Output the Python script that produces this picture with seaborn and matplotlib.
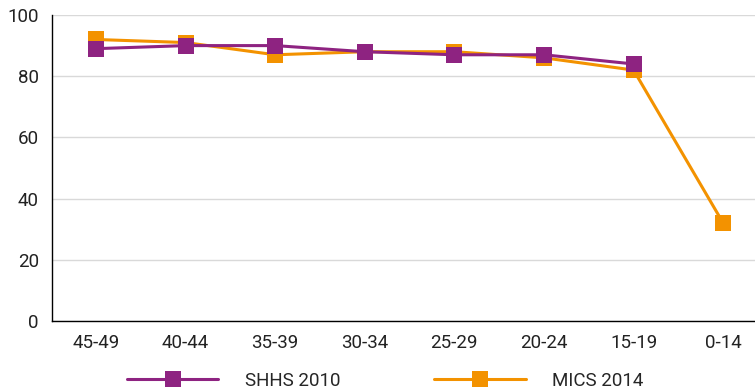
import matplotlib
matplotlib.use("Agg")
import matplotlib.pyplot as plt
import pandas as pd
import seaborn as sns

# age groups and values
age_groups = ["45-49", "40-44", "35-39", "30-34", "25-29", "20-24", "15-19", "0-14"]
shhs_2010 = [89, 90, 90, 88, 87, 87, 84]
mics_2014 = [92, 91, 87, 88, 88, 86, 82, 32]

df_shhs = pd.DataFrame({"Age": age_groups[:len(shhs_2010)], "Value": shhs_2010})
df_mics = pd.DataFrame({"Age": age_groups, "Value": mics_2014})

sns.set_theme(style="white")
plt.rcParams["font.family"] = ["Roboto", "DejaVu Sans"]

purple = "#8E2381"
orange = "#F39200"

fig = plt.figure(figsize=(7.55, 3.89), dpi=100)
ax = fig.add_axes([52 / 755, 68 / 389, 1 - 52 / 755, 306 / 389])

# orange first so purple sits on top
sns.lineplot(data=df_mics, x="Age", y="Value", ax=ax, color=orange, marker="s",
             markersize=11.5, markeredgewidth=0, linewidth=2.2, sort=False, label="MICS 2014")
sns.lineplot(data=df_shhs, x="Age", y="Value", ax=ax, color=purple, marker="s",
             markersize=11.5, markeredgewidth=0, linewidth=2.2, sort=False, label="SHHS 2010")

ax.set_ylim(0, 100)
ax.set_xlim(-0.49, 7.355)
ax.set_yticks([0, 20, 40, 60, 80, 100])
ax.yaxis.grid(True, color="#d9d9d9", linewidth=1)
ax.xaxis.grid(False)
ax.set_xlabel("")
ax.set_ylabel("")
for s in ["top", "right"]:
    ax.spines[s].set_visible(False)
ax.spines["left"].set_color("black")
ax.spines["bottom"].set_color("black")
ax.spines["left"].set_linewidth(1)
ax.spines["bottom"].set_linewidth(1)
ax.tick_params(axis="both", length=0, labelsize=13.5, colors="#222222")
ax.tick_params(axis="x", pad=9)
ax.tick_params(axis="y", pad=9.5)

handles, labels = ax.get_legend_handles_labels()
ax.get_legend().remove()
fig.legend(handles[::-1], labels[::-1], loc="center", bbox_to_anchor=(0.51, 8 / 389),
           ncol=2, frameon=False, fontsize=13.5, handlelength=4.9, handletextpad=1.4,
           columnspacing=5.0)

fig.savefig("out.png", dpi=100)
